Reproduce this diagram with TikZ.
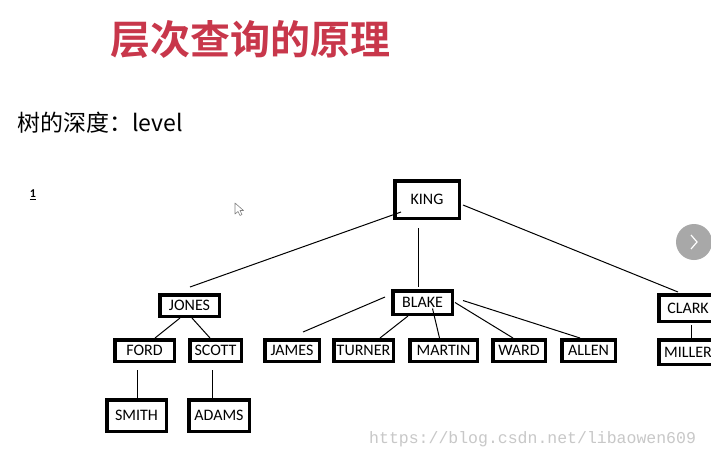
\documentclass[tikz,border=0pt]{standalone}
\usepackage{fontspec}
\setmainfont{Carlito}
\newfontfamily\cjkfont{Noto Sans CJK SC}
\newfontfamily\cjkbold{Noto Sans CJK SC Bold}
\newfontfamily\wmfont{Liberation Mono}
\usetikzlibrary{calc}
\definecolor{titlered}{RGB}{200,55,75}
\definecolor{wmgray}{RGB}{200,200,200}
\definecolor{btngray}{RGB}{168,168,168}
\tikzset{
  emp/.style={draw=black, line width=3.5pt, fill=white, inner sep=0pt,
    font=\fontsize{16}{17}\selectfont},
  link/.style={draw=black, line width=1pt},
}
\begin{document}
\begin{tikzpicture}[x=1pt,y=-1pt]
\useasboundingbox (0,0) rectangle (711,456);
\clip (0,0) rectangle (711,456);
\fill[white] (0,0) rectangle (711,456);

% title and subtitle
\node[anchor=center, text=titlered, font=\cjkbold\fontsize{40}{40}\selectfont] (title) at (250,40) {层次查询的原理};
\node[anchor=base west, inner sep=0pt, font=\cjkfont\fontsize{23}{23}\selectfont] (sub) at (17,131) {树的深度：level};
\node[inner sep=0pt, font=\bfseries\fontsize{12}{12}\selectfont] (one) at (33,195) {\underline{1}};

% cursor
\draw[gray, line width=0.6pt, fill=white, line join=round] (235,203) -- (235,214) -- (238,211.5) -- (240,215.5) -- (242,214.5) -- (240,210.5) -- (243.5,210.5) -- cycle;

% next button
\node[circle, fill=btngray, minimum size=36pt, inner sep=0pt] (btn) at (694,242) {};
\draw[white, line width=1.2pt] ($(btn)+(-3,-7)$) -- ($(btn)+(3,0)$) -- ($(btn)+(-3,7)$);

% nodes
\node[emp, minimum width=64.5pt, minimum height=37.5pt] (king) at (427,199.5) {KING};
\node[emp, minimum width=59.5pt, minimum height=21.5pt] (jones) at (189.5,305.5) {JONES};
\node[emp, minimum width=59.5pt, minimum height=23.5pt] (blake) at (422.5,302.5) {BLAKE};
\node[emp, minimum width=58.5pt, minimum height=26.5pt] (clark) at (688,308) {CLARK};
\node[emp, minimum width=58.5pt, minimum height=24.5pt] (miller) at (688,352) {MILLER};
\node[emp, minimum width=59.5pt, minimum height=21.5pt] (ford) at (144.5,350.5) {FORD};
\node[emp, minimum width=51.5pt, minimum height=21.5pt] (scott) at (215.5,350.5) {SCOTT};
\node[emp, minimum width=54.5pt, minimum height=21.5pt] (james) at (292,350.5) {JAMES};
\node[emp, minimum width=59.5pt, minimum height=21.5pt] (turner) at (363.5,350.5) {TURNER};
\node[emp, minimum width=67.5pt, minimum height=21.5pt] (martin) at (443.5,350.5) {MARTIN};
\node[emp, minimum width=52.5pt, minimum height=21.5pt] (ward) at (519,350.5) {WARD};
\node[emp, minimum width=53.5pt, minimum height=21.5pt] (allen) at (588.5,350.5) {ALLEN};
\node[emp, minimum width=59.5pt, minimum height=31.5pt] (smith) at (136.5,415.5) {SMITH};
\node[emp, minimum width=60.5pt, minimum height=31.5pt] (adams) at (219,415.5) {ADAMS};

% connectors
\draw[link] ($(king.south west)+(8,-8)$) -- ($(jones.north)+(0.5,-6)$);
\draw[link] ($(king.south)+(-9,8)$) -- ($(blake.north)+(-4.5,-2)$);
\draw[link] ($(king.east)+(2,5.5)$) -- ($(clark.north)+(-10,-1)$);
\draw[link] ($(jones.south)+(-9.5,0)$) -- ($(ford.north)+(10.5,0)$);
\draw[link] ($(jones.south)+(2.5,0)$) -- ($(scott.north)+(-5.5,0)$);
\draw[link] ($(blake.west)+(-6,-5.5)$) -- ($(james.north)+(11,-6)$);
\draw[link] ($(blake.south)+(-14.5,0)$) -- ($(turner.north)+(16.5,0)$);
\draw[link] ($(blake.center)+(10,6)$) -- ($(martin.north)+(-4,0)$);
\draw[link] ($(blake.east)+(1,0)$) -- ($(ward.north)+(-6,0)$);
\draw[link] ($(blake.east)+(9,-2)$) -- ($(allen.north)+(-8.5,0)$);
\draw[link] ($(ford.south)+(-7.5,7)$) -- ($(smith.north)+(0.5,0)$);
\draw[link] ($(scott.south)+(-3.5,7)$) -- ($(adams.north)+(-7,0)$);
\draw[link] ($(clark.south)+(3,2)$) -- ($(miller.north)+(3,0)$);

% watermark
\node[anchor=base west, inner sep=0pt, text=wmgray, font=\wmfont\fontsize{16.5}{17}\selectfont] (wm) at (369,443) {https://blog.csdn.net/libaowen609};
\end{tikzpicture}
\end{document}
